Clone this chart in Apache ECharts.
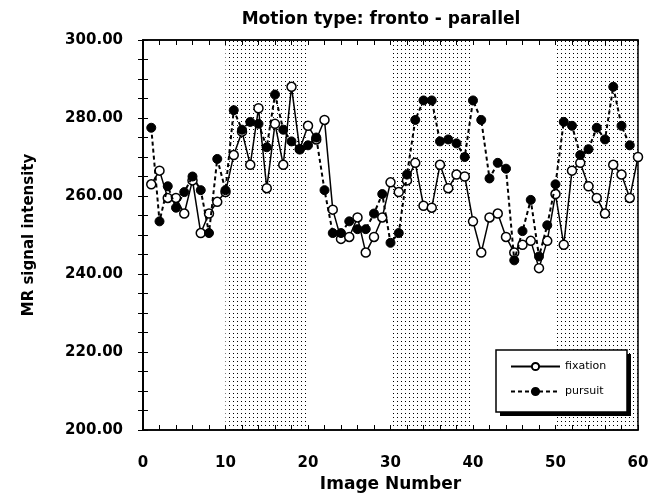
<!DOCTYPE html>
<html>
<head>
<meta charset="utf-8">
<script src="https://cdn.jsdelivr.net/npm/echarts@6/dist/echarts.min.js"></script>
<style>
  html, body { margin: 0; padding: 0; background: #fff; }
  #chart { width: 661px; height: 495px; }
</style>
</head>
<body>
<div id="chart"></div>
<script>
// image numbers 1..60
var imageNumbers = [];
for (var i = 1; i <= 60; i++) imageNumbers.push(i);

var fixation = [
  263, 266.5, 259.5, 259.5, 255.5, 264, 250.5, 255.5, 258.5, 261,
  270.5, 276.5, 268, 282.5, 262, 278.5, 268, 288, 272, 278,
  274.5, 279.5, 256.5, 249, 249.5, 254.5, 245.5, 249.5, 254.5, 263.5,
  261, 264, 268.5, 257.5, 257, 268, 262, 265.5, 265, 253.5,
  245.5, 254.5, 255.5, 249.5, 245.5, 247.5, 248.5, 241.5, 248.5, 260.5,
  247.5, 266.5, 268.5, 262.5, 259.5, 255.5, 268, 265.5, 259.5, 270
];

var pursuit = [
  277.5, 253.5, 262.5, 257, 261, 265, 261.5, 250.5, 269.5, 261.5,
  282, 277, 279, 278.5, 272.5, 286, 277, 274, 272, 273,
  275, 261.5, 250.5, 250.5, 253.5, 251.5, 251.5, 255.5, 260.5, 248,
  250.5, 265.5, 279.5, 284.5, 284.5, 274, 274.5, 273.5, 270, 284.5,
  279.5, 264.5, 268.5, 267, 243.5, 251, 259, 244.5, 252.5, 263,
  279, 278, 270.5, 272, 277.5, 274.5, 288, 278, 273, null
];

// stimulus blocks (image number ranges) shown with the dotted fill
var blocks = [[10, 20], [30, 40], [50, 60]];

var seriesNames = ['fixation', 'pursuit'];

function pairs(vals) {
  return imageNumbers.map(function (x, k) { return [x, vals[k]]; });
}

// dotted fill pattern
var pat = document.createElement('canvas');
pat.width = 4; pat.height = 4;
var pctx = pat.getContext('2d');
pctx.fillStyle = '#000';
pctx.fillRect(1, 1, 1, 1);

var font = 'DejaVu Sans';

var chart = echarts.init(document.getElementById('chart'), null, { renderer: 'canvas' });

var axisCommon = {
  axisLine: { show: true, lineStyle: { color: '#000', width: 1.5 } },
  axisTick: { show: true, inside: true, length: 5, lineStyle: { color: '#000', width: 1 } },
  minorTick: { show: true, length: 5, lineStyle: { color: '#000', width: 1 } },
  splitLine: { show: false },
  minorSplitLine: { show: false }
};

// legend box with hard drop shadow
var boxX = 496, boxY = 350, boxW = 131, boxH = 62;

var option = {
  animation: false,
  backgroundColor: '#fff',
  title: {
    text: 'Motion type: fronto - parallel',
    left: 376,
    top: 6,
    textAlign: 'center',
    textStyle: { fontFamily: font, fontWeight: 'bold', fontSize: 17, color: '#000' }
  },
  graphic: [
    { type: 'rect', z: 50, silent: true,
      shape: { x: boxX + 4, y: boxY + 4, width: boxW, height: boxH },
      style: { fill: '#000' } },
    { type: 'rect', z: 51, silent: true,
      shape: { x: boxX, y: boxY, width: boxW, height: boxH },
      style: { fill: '#fff', stroke: '#000', lineWidth: 1.5 } }
  ],
  legend: {
    orient: 'vertical',
    left: boxX + 14,
    top: boxY + 11,
    z: 60,
    data: seriesNames,
    itemWidth: 49,
    itemHeight: 9,
    itemGap: 14,
    padding: 0,
    textStyle: { fontFamily: font, fontSize: 11, color: '#000' }
  },
  grid: {
    left: 143,
    right: 23,
    top: 40,
    bottom: 65,
    outerBoundsMode: 'none',
    show: true,
    borderColor: '#000',
    borderWidth: 1.5,
    backgroundColor: 'transparent'
  },
  xAxis: [
    Object.assign({
      type: 'value',
      min: 0,
      max: 60,
      interval: 10,
      name: 'Image Number',
      nameLocation: 'middle',
      nameGap: 42,
      nameTextStyle: { fontFamily: font, fontWeight: 'bold', fontSize: 17, color: '#000' },
      axisLabel: { margin: 26, fontFamily: font, fontWeight: 'bold', fontSize: 15, color: '#000' }
    }, axisCommon, { minorTick: Object.assign({ splitNumber: 5 }, axisCommon.minorTick) }),
    Object.assign({
      type: 'value',
      position: 'top',
      min: 0,
      max: 60,
      interval: 10,
      axisLabel: { show: false }
    }, axisCommon, { minorTick: Object.assign({ splitNumber: 5 }, axisCommon.minorTick) })
  ],
  yAxis: [
    Object.assign({
      type: 'value',
      min: 200,
      max: 300,
      interval: 20,
      name: 'MR signal intensity',
      nameLocation: 'middle',
      nameGap: 106,
      nameRotate: 90,
      nameTextStyle: { fontFamily: font, fontWeight: 'bold', fontSize: 15, color: '#000' },
      axisLabel: {
        margin: 20,
        fontFamily: font, fontWeight: 'bold', fontSize: 15, color: '#000',
        formatter: function (v) { return v.toFixed(2); }
      }
    }, axisCommon, { minorTick: Object.assign({ splitNumber: 4 }, axisCommon.minorTick) }),
    Object.assign({
      type: 'value',
      position: 'right',
      min: 200,
      max: 300,
      interval: 20,
      axisLabel: { show: false }
    }, axisCommon, { minorTick: Object.assign({ splitNumber: 4 }, axisCommon.minorTick) })
  ],
  series: [
    {
      name: 'blocks',
      type: 'line',
      data: [],
      z: 1,
      silent: true,
      markArea: {
        silent: true,
        itemStyle: { color: { image: pat, repeat: 'repeat' } },
        data: blocks.map(function (b) { return [{ xAxis: b[0] }, { xAxis: b[1] }]; })
      }
    },
    {
      name: seriesNames[0],
      type: 'line',
      z: 3,
      data: pairs(fixation),
      symbol: 'circle',
      symbolSize: 9,
      lineStyle: { color: '#000', width: 1.5, type: 'solid' },
      itemStyle: { color: '#fff', borderColor: '#000', borderWidth: 1.5 }
    },
    {
      name: seriesNames[1],
      type: 'line',
      z: 4,
      data: pairs(pursuit),
      connectNulls: false,
      symbol: 'circle',
      symbolSize: 9,
      lineStyle: { color: '#000', width: 2, type: [4, 3] },
      itemStyle: { color: '#000', borderColor: '#000', borderWidth: 1 }
    }
  ]
};

chart.setOption(option);
</script>
</body>
</html>
